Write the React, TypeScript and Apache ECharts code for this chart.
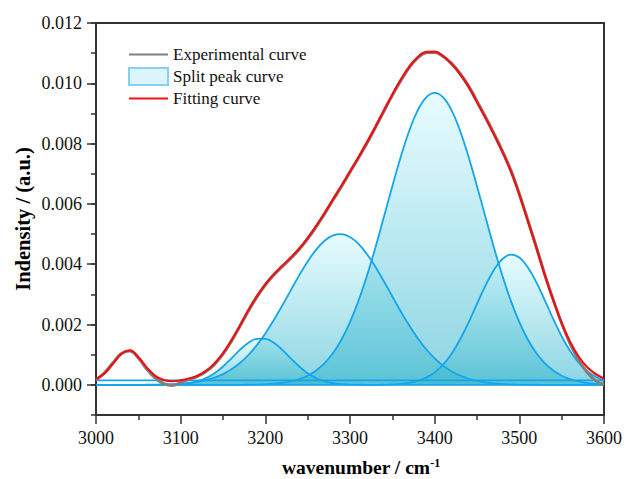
import { useEffect, useRef } from "react";
import * as echarts from "echarts";

// x positions (wavenumber, cm-1)
const wavenumbers = [
  3000, 3010, 3020, 3030, 3040, 3050, 3060, 3070, 3080, 3090,
  3100, 3110, 3120, 3130, 3140, 3150, 3160, 3170, 3180, 3190,
  3200, 3210, 3220, 3230, 3240, 3250, 3260, 3270, 3280, 3290,
  3300, 3310, 3320, 3330, 3340, 3350, 3360, 3370, 3380, 3390,
  3400, 3410, 3420, 3430, 3440, 3450, 3460, 3470, 3480, 3490,
  3500, 3510, 3520, 3530, 3540, 3550, 3560, 3570, 3580, 3590,
  3600,
];

const experimental = [
  0.00016, 0.0004, 0.00073, 0.00104, 0.00112, 0.00089, 0.00052, 0.00022, 0.00004, -0.00002,
  0.00008, 0.00018, 0.00028, 0.00044, 0.00068, 0.00102, 0.00145, 0.00194, 0.00245, 0.00291,
  0.00331, 0.00364, 0.00392, 0.00419, 0.00449, 0.00484, 0.00524, 0.00567, 0.00613, 0.00658,
  0.00705, 0.00752, 0.00801, 0.00853, 0.00907, 0.0096, 0.01009, 0.01052, 0.01084, 0.01101,
  0.01102, 0.01089, 0.01066, 0.01033, 0.00992, 0.00941, 0.00889, 0.00834, 0.00776, 0.00712,
  0.00634, 0.00547, 0.00459, 0.00367, 0.00283, 0.00204, 0.00136, 0.00082, 0.00042, 0.00014,
  0.0,
];

const fitting = [
  0.00019, 0.00038, 0.0007, 0.00103, 0.00114, 0.00092, 0.00057, 0.0003, 0.00016, 0.00012,
  0.00015, 0.00021, 0.0003, 0.00046, 0.00071, 0.00105, 0.00148, 0.00197, 0.00248, 0.00294,
  0.00334, 0.00367, 0.00395, 0.00422, 0.00452, 0.00487, 0.00527, 0.0057, 0.00616, 0.00661,
  0.00708, 0.00755, 0.00804, 0.00856, 0.0091, 0.00963, 0.01012, 0.01055, 0.01087, 0.01104,
  0.01105, 0.0109, 0.01064, 0.0103, 0.00988, 0.00937, 0.00885, 0.0083, 0.00772, 0.00708,
  0.0063, 0.00543, 0.00455, 0.00364, 0.00281, 0.00205, 0.00142, 0.00094, 0.00059, 0.00036,
  0.00021,
];

// split peak 1 sits on a small baseline
const peak1Baseline = 0.00015;
const peak1 = [
  0.000232, 0.000408, 0.000721, 0.001045, 0.001143, 0.00093, 0.000583, 0.00032, 0.000197, 0.000159,
  0.000151, 0.00015, 0.00015, 0.00015, 0.00015, 0.00015, 0.00015, 0.00015, 0.00015, 0.00015,
  0.00015, 0.00015, 0.00015, 0.00015, 0.00015, 0.00015, 0.00015, 0.00015, 0.00015, 0.00015,
  0.00015, 0.00015, 0.00015, 0.00015, 0.00015, 0.00015, 0.00015, 0.00015, 0.00015, 0.00015,
  0.00015, 0.00015, 0.00015, 0.00015, 0.00015, 0.00015, 0.00015, 0.00015, 0.00015, 0.00015,
  0.00015, 0.00015, 0.00015, 0.00015, 0.00015, 0.00015, 0.00015, 0.00015, 0.00015, 0.00015,
  0.00015,
];

const peak2 = [
  0, 0, 0, 0, 0, 0, 0, 0, 0.0000036, 0.0000098,
  0.0000245, 0.000056, 0.000116, 0.000222, 0.000385, 0.00061, 0.000881, 0.00116, 0.001394, 0.001527,
  0.001527, 0.001394, 0.00116, 0.000881, 0.00061, 0.000385, 0.000222, 0.000116, 0.000056, 0.0000245,
  0.0000098, 0.0000036, 0, 0, 0, 0, 0, 0, 0, 0,
  0, 0, 0, 0, 0, 0, 0, 0, 0, 0,
  0, 0, 0, 0, 0, 0, 0, 0, 0, 0,
  0,
];

const peak3 = [
  0, 0, 0, 0, 0, 0, 0.0000036, 0.0000068, 0.0000123, 0.0000216,
  0.0000369, 0.0000614, 0.0000992, 0.000156, 0.000239, 0.000355, 0.000514, 0.000723, 0.00099, 0.001317,
  0.001706, 0.002148, 0.002631, 0.003134, 0.003631, 0.004092, 0.004484, 0.00478, 0.004956, 0.004997,
  0.004901, 0.004675, 0.004337, 0.003914, 0.003435, 0.002932, 0.002434, 0.001965, 0.001543, 0.001179,
  0.000876, 0.000633, 0.000444, 0.000304, 0.000202, 0.000131, 0.0000821, 0.0000502, 0.0000299, 0.0000172,
  0.0000097, 0.0000053, 0.0000028, 0, 0, 0, 0, 0, 0, 0,
  0,
];

const peak4 = [
  0, 0, 0, 0, 0, 0, 0, 0, 0, 0,
  0, 0, 0, 0, 0, 0, 0, 0, 0.0000057, 0.0000111,
  0.0000205, 0.0000373, 0.0000661, 0.000113, 0.000189, 0.000304, 0.000475, 0.000718, 0.001055, 0.001503,
  0.002077, 0.002783, 0.003616, 0.004553, 0.005563, 0.006589, 0.007567, 0.008428, 0.009102, 0.009532,
  0.00968, 0.009532, 0.009102, 0.008428, 0.007567, 0.006589, 0.005563, 0.004553, 0.003616, 0.002783,
  0.002077, 0.001503, 0.001055, 0.000718, 0.000475, 0.000304, 0.000189, 0.000113, 0.0000661, 0.0000373,
  0.0000205,
];

const peak5 = [
  0, 0, 0, 0, 0, 0, 0, 0, 0, 0,
  0, 0, 0, 0, 0, 0, 0, 0, 0, 0,
  0, 0, 0, 0, 0, 0, 0, 0, 0, 0,
  0, 0, 0, 0, 0.0000067, 0.0000154, 0.0000334, 0.0000681, 0.000131, 0.00024,
  0.000413, 0.000673, 0.001035, 0.001505, 0.002067, 0.002683, 0.00329, 0.003812, 0.004174, 0.004319,
  0.004222, 0.0039, 0.003404, 0.002807, 0.002187, 0.001611, 0.001121, 0.000737, 0.000458, 0.000269,
  0.000149,
];

const legendNames = ["Experimental curve", "Split peak curve", "Fitting curve"];

const FONT = "Liberation Serif";
const PEAK_LINE = "#14a5ec";
const AXIS_COLOR = "#333333";

export default function App() {
  const ref = useRef<HTMLDivElement>(null);

  useEffect(() => {
    if (!ref.current) return;
    const chart = echarts.init(ref.current, undefined, { renderer: "svg" });

    const pairs = (ys: number[]) => wavenumbers.map((x, i) => [x, ys[i]]);
    const areaFill = {
      color: {
        type: "linear",
        x: 0,
        y: 0,
        x2: 0,
        y2: 1,
        colorStops: [
          { offset: 0, color: "rgba(212,249,255,0.55)" },
          { offset: 1, color: "rgba(55,182,204,0.58)" },
        ],
      },
      opacity: 1,
    };

    const peakSeries = (data: number[][], extra: any = {}) => ({
      type: "line",
      name: legendNames[1],
      data,
      smooth: 0.4,
      symbol: "none",
      xAxisIndex: 0,
      yAxisIndex: 0,
      lineStyle: { color: PEAK_LINE, width: 1.8 },
      itemStyle: { color: PEAK_LINE },
      areaStyle: areaFill,
      ...extra,
    });

    const option: any = {
      animation: false,
      backgroundColor: "#ffffff",
      textStyle: { fontFamily: FONT },
      grid: [
        {
          left: 96,
          right: 18,
          top: 23,
          bottom: 64,
          show: true,
          borderColor: AXIS_COLOR,
          borderWidth: 2,
          backgroundColor: "transparent",
        },
        {
          left: 96,
          right: 18,
          top: 23,
          bottom: 94.15,
          show: false,
        },
      ],
      legend: {
        data: [
          { name: legendNames[0], itemStyle: { opacity: 0 } },
          {
            name: legendNames[1],
            icon: "rect",
            itemStyle: {
              color: "#dcf4fb",
              borderColor: "#86d0f4",
              borderWidth: 2,
            },
          },
          { name: legendNames[2], itemStyle: { opacity: 0 } },
        ],
        orient: "vertical",
        left: 123,
        top: 41,
        itemWidth: 39,
        itemHeight: 17,
        itemGap: 4,
        textStyle: {
          fontFamily: FONT,
          fontSize: 17,
          color: "#111",
        },
      },
      xAxis: [
        {
          type: "value",
          gridIndex: 0,
          min: 3000,
          max: 3600,
          interval: 100,
          axisLine: { show: true, onZero: false, lineStyle: { color: AXIS_COLOR, width: 2 } },
          axisTick: { show: true, inside: false, length: 9, lineStyle: { color: AXIS_COLOR, width: 1.5 } },
          minorTick: { show: true, splitNumber: 2, length: 5, lineStyle: { color: AXIS_COLOR, width: 1.5 } },
          splitLine: { show: false },
          minorSplitLine: { show: false },
          axisLabel: {
            fontFamily: FONT,
            fontSize: 18,
            color: "#111",
            margin: 14,
            formatter: (v: number) => String(v),
          },
        },
        {
          type: "value",
          gridIndex: 1,
          min: 3000,
          max: 3600,
          show: false,
        },
      ],
      yAxis: [
        {
          type: "value",
          gridIndex: 0,
          min: -0.001,
          max: 0.012,
          interval: 0.001,
          axisLine: { show: true, onZero: false, lineStyle: { color: AXIS_COLOR, width: 2 } },
          axisTick: { show: true, inside: false, length: 5, lineStyle: { color: AXIS_COLOR, width: 1.5 } },
          axisLabel: { show: false },
          splitLine: { show: false },
        },
        {
          type: "value",
          gridIndex: 1,
          min: 0,
          max: 0.012,
          interval: 0.002,
          axisLine: { show: false, onZero: false },
          axisTick: { show: true, inside: false, length: 9, lineStyle: { color: AXIS_COLOR, width: 1.5 } },
          axisLabel: {
            fontFamily: FONT,
            fontSize: 18,
            color: "#111",
            margin: 14,
            formatter: (v: number) => v.toFixed(3),
          },
          splitLine: { show: false },
        },
      ],
      graphic: [
        {
          type: "text",
          x: 23,
          y: 219,
          rotation: Math.PI / 2,
          z: 100,
          style: {
            text: "Indensity / (a.u.)",
            fontFamily: FONT,
            fontSize: 20.5,
            fontWeight: "bold",
            fill: "#000",
            align: "center",
            verticalAlign: "middle",
            textAlign: "center",
            textVerticalAlign: "middle",
          },
        },
        {
          type: "text",
          x: 361,
          y: 467,
          z: 100,
          style: {
            text: "{a|wavenumber / cm}{b|-1}",
            fill: "#000",
            align: "center",
            verticalAlign: "middle",
            textAlign: "center",
            textVerticalAlign: "middle",
            rich: {
              a: { fontFamily: FONT, fontSize: 19.5, fontWeight: "bold", fill: "#000", color: "#000" },
              b: {
                fontFamily: FONT,
                fontSize: 12,
                fontWeight: "bold",
                fill: "#000",
                color: "#000",
                verticalAlign: "top",
                lineHeight: 12,
              },
            },
          },
        },
      ],
      series: [
        {
          type: "line",
          name: "peak1-baseline",
          data: pairs(wavenumbers.map(() => peak1Baseline)),
          stack: "p1",
          symbol: "none",
          lineStyle: { color: PEAK_LINE, width: 1.8 },
          itemStyle: { color: PEAK_LINE },
        },
        peakSeries(pairs(peak1.map((v) => v - peak1Baseline)), { stack: "p1" }),
        peakSeries(pairs(peak2)),
        peakSeries(pairs(peak3)),
        peakSeries(pairs(peak4)),
        peakSeries(pairs(peak5)),
        {
          type: "line",
          name: legendNames[0],
          data: pairs(experimental),
          smooth: 0.4,
          symbol: "none",
          lineStyle: { color: "#808080", width: 3 },
          itemStyle: { color: "#808080" },
        },
        {
          type: "line",
          name: legendNames[2],
          data: pairs(fitting),
          smooth: 0.4,
          symbol: "none",
          lineStyle: { color: "#ee1111", width: 2.2 },
          itemStyle: { color: "#ee1111" },
        },
      ],
    };

    chart.setOption(option);
    return () => chart.dispose();
  }, []);

  return (
    <div
      ref={ref}
      style={{ position: "fixed", left: 0, top: 0, width: 625, height: 479, background: "#fff" }}
    />
  );
}
